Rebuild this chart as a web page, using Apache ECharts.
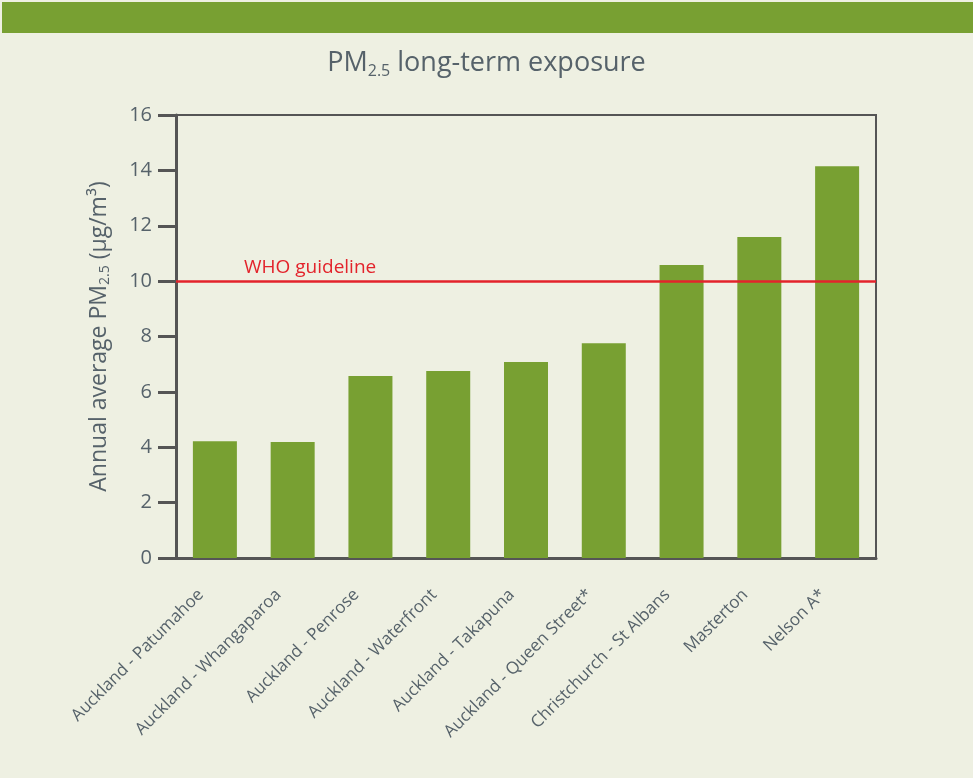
<!DOCTYPE html>
<html>
<head>
<meta charset="utf-8">
<script src="https://cdn.jsdelivr.net/npm/echarts@6/dist/echarts.min.js"></script>
<style>
  html, body { margin: 0; padding: 0; background: #eef0e2; }
  #chart { width: 973px; height: 778px; }
</style>
</head>
<body>
<div id="chart"></div>
<script>
const sites = [
  'Auckland - Patumahoe',
  'Auckland - Whangaparoa',
  'Auckland - Penrose',
  'Auckland - Waterfront',
  'Auckland - Takapuna',
  'Auckland - Queen Street*',
  'Christchurch - St Albans',
  'Masterton',
  'Nelson A*'
]
const pm25 = [4.22, 4.19, 6.57, 6.75, 7.08, 7.76, 10.58, 11.59, 14.15]
const whoGuideline = 10
const yTicks = { min: 0, max: 16, interval: 2 }

const textColor = '#56626a'
const green = '#78a032'
const font = 'Open Sans'

const chart = echarts.init(document.getElementById('chart'))
const option = {
  backgroundColor: '#eef0e2',
  textStyle: { fontFamily: font },
  graphic: [
    { type: 'rect', left: 2, top: 2, shape: { width: 971, height: 31 }, style: { fill: green }, z: -1 }
  ],
  title: {
    left: 'center',
    top: 40,
    text: '{a|PM}{b|2.5}{a| long-term exposure}',
    textStyle: {
      fontWeight: 'normal',
      rich: {
        a: { fontSize: 27, color: textColor, fontFamily: font, fontWeight: 'normal', lineHeight: 36 },
        b: { fontSize: 16, color: textColor, fontFamily: font, fontWeight: 'normal', padding: [17, 0, 0, 0] }
      }
    }
  },
  grid: {
    left: 176, right: 97, top: 115, bottom: 220,
    show: true, borderColor: '#555', borderWidth: 2
  },
  xAxis: {
    type: 'category',
    data: sites,
    axisLine: { lineStyle: { color: '#555', width: 3 } },
    axisTick: { show: false },
    axisLabel: {
      interval: 0,
      rotate: 45,
      margin: 20,
      padding: [0, 20, 0, 0],
      fontSize: 17,
      color: textColor
    }
  },
  yAxis: {
    type: 'value',
    min: yTicks.min,
    max: yTicks.max,
    interval: yTicks.interval,
    name: '{a|Annual average PM}{b|2.5}{a| (µg/m³)}',
    nameLocation: 'middle',
    nameGap: 62,
    nameTextStyle: {
      rich: {
        a: { fontSize: 23, color: textColor, fontFamily: font, lineHeight: 30 },
        b: { fontSize: 14, color: textColor, fontFamily: font, padding: [12, 0, 0, 0] }
      }
    },
    axisLine: { show: true, lineStyle: { color: '#555', width: 3 } },
    axisTick: { show: true, length: 18, lineStyle: { color: '#555', width: 3 } },
    axisLabel: { margin: 24, fontSize: 20, color: textColor },
    splitLine: { show: false }
  },
  series: [
    {
      type: 'bar',
      data: pm25,
      barWidth: 44,
      itemStyle: { color: green },
      markLine: {
        silent: true,
        symbol: 'none',
        lineStyle: { color: '#e3232b', width: 2.5, type: 'solid' },
        label: {
          position: 'insideStartTop',
          formatter: 'WHO guideline',
          color: '#e3232b',
          fontSize: 19,
          fontFamily: font,
          distance: [68, 4]
        },
        data: [{ yAxis: whoGuideline }]
      }
    }
  ]
}
chart.setOption(option)
</script>
</body>
</html>
